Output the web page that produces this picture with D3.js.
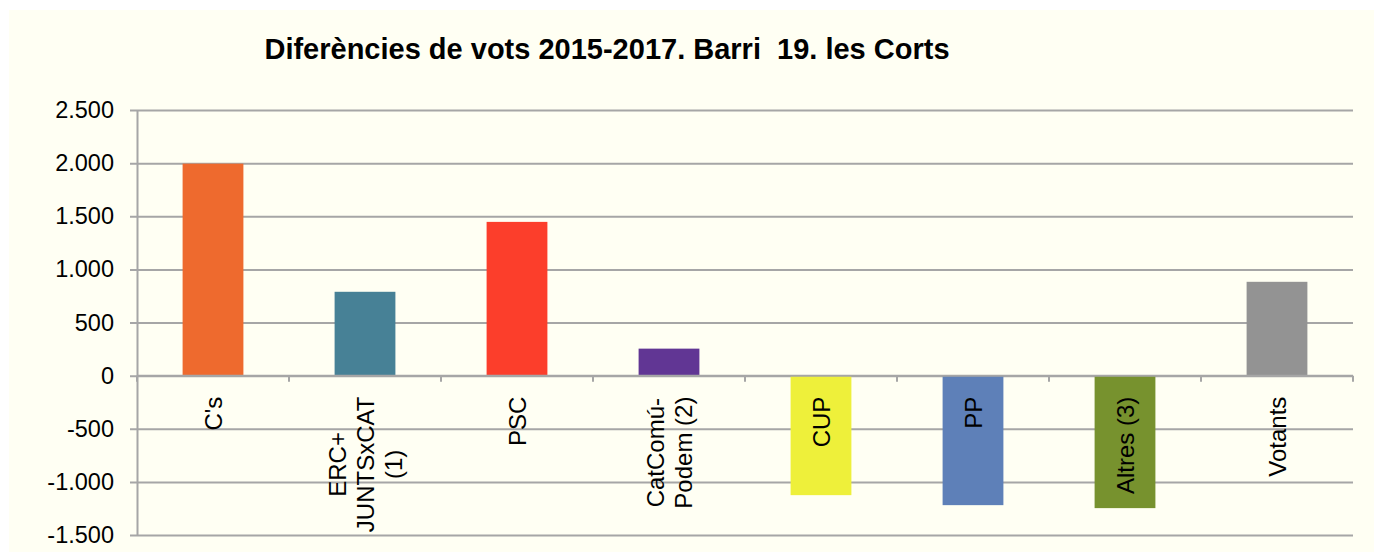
<!DOCTYPE html>
<html>
<head>
<meta charset="utf-8">
<script src="https://cdn.jsdelivr.net/npm/d3@7"></script>
<style>
  body { margin: 0; background: #ffffff; }
  text { font-family: "Liberation Sans", Arial, sans-serif; fill: #000; }
</style>
</head>
<body>
<div id="chart"></div>
<script>
// categories and values (vote differences 2015-2017)
var categories = ["C's", "ERC+|JUNTSxCAT|(1)", "PSC", "CatComú-|Podem (2)", "CUP", "PP", "Altres (3)", "Votants"];
var values = [1995, 789, 1447, 254, -1125, -1219, -1247, 883];
var colors = ["#ee6a2e", "#478196", "#fc3e2b", "#613694", "#eef03a", "#5e80b8", "#77922e", "#939393"];
var yTicks = [-1500, -1000, -500, 0, 500, 1000, 1500, 2000, 2500];
var title = "Diferències de vots 2015-2017. Barri  19. les Corts";

var W = 1374, H = 553;
var margin = { top: 110, right: 21, bottom: 18, left: 137 };
var width = W - margin.left - margin.right,
    height = H - margin.top - margin.bottom;
var labelSize = 24, tickSize = 23.5;

var svg = d3.select("#chart").append("svg")
  .attr("width", W)
  .attr("height", H);

// cream background
svg.append("rect")
  .attr("x", 9).attr("y", 10)
  .attr("width", W - 9).attr("height", 542)
  .attr("fill", "#fffff3");

svg.append("text")
  .attr("x", 607).attr("y", 59)
  .attr("text-anchor", "middle")
  .style("font-size", "29px")
  .style("font-weight", "bold")
  .style("white-space", "pre")
  .text(title);

var g = svg.append("g")
  .attr("transform", "translate(" + margin.left + "," + margin.top + ")");

var x = d3.scaleBand()
  .domain(categories)
  .range([0, width])
  .paddingInner(0.6)
  .paddingOuter(0.3);

var y = d3.scaleLinear()
  .domain([-1500, 2500])
  .range([height, 0]);

var fmt = function (d) {
  return d3.format(",")(d).replace(/,/g, ".").replace("−", "-");
};

// gridlines + y labels
var yAxis = d3.axisLeft(y).tickValues(yTicks).tickSize(-width).tickSizeOuter(0).tickPadding(23).tickFormat(fmt);
var ya = g.append("g").attr("class", "y-axis").call(yAxis);
ya.select(".domain").attr("stroke", "#a6a6a6").attr("stroke-width", 2);
ya.selectAll(".tick line").attr("stroke", "#a6a6a6").attr("stroke-width", 2).attr("x1", -7);
ya.selectAll(".tick text").style("font-size", tickSize + "px");

// bars
g.selectAll(".bar")
  .data(values)
  .enter().append("rect")
  .attr("class", "bar")
  .attr("x", function (d, i) { return x(categories[i]); })
  .attr("width", x.bandwidth())
  .attr("y", function (d) { return y(Math.max(0, d)); })
  .attr("height", function (d) { return Math.abs(y(d) - y(0)); })
  .attr("fill", function (d, i) { return colors[i]; });

// zero axis with category boundary ticks
var step = x.step();
g.append("line")
  .attr("x1", 0).attr("x2", width)
  .attr("y1", y(0)).attr("y2", y(0))
  .attr("stroke", "#a6a6a6").attr("stroke-width", 2);
g.selectAll(".ctick")
  .data(d3.range(categories.length + 1))
  .enter().append("line")
  .attr("class", "ctick")
  .attr("x1", function (i) { return i * step; })
  .attr("x2", function (i) { return i * step; })
  .attr("y1", y(0)).attr("y2", y(0) + 6)
  .attr("stroke", "#a6a6a6").attr("stroke-width", 2);

// rotated category labels, lines centred on each other
var lineH = 28;
g.selectAll(".clabel")
  .data(categories)
  .enter().append("text")
  .attr("class", "clabel")
  .style("font-size", labelSize + "px")
  .attr("transform", function (d) {
    var cx = x(d) + x.bandwidth() / 2;
    return "translate(" + cx + "," + (y(0) + 21) + ") rotate(-90)";
  })
  .each(function (d) {
    var t = d3.select(this);
    var lines = d.split("|");
    var spans = lines.map(function (line, k) {
      return t.append("tspan")
        .attr("text-anchor", "middle")
        .attr("y", 0.36 * labelSize + (k - (lines.length - 1) / 2) * lineH)
        .text(line);
    });
    var maxLen = d3.max(spans, function (s) { return s.node().getComputedTextLength(); });
    spans.forEach(function (s) { s.attr("x", -maxLen / 2); });
  });
</script>
</body>
</html>
